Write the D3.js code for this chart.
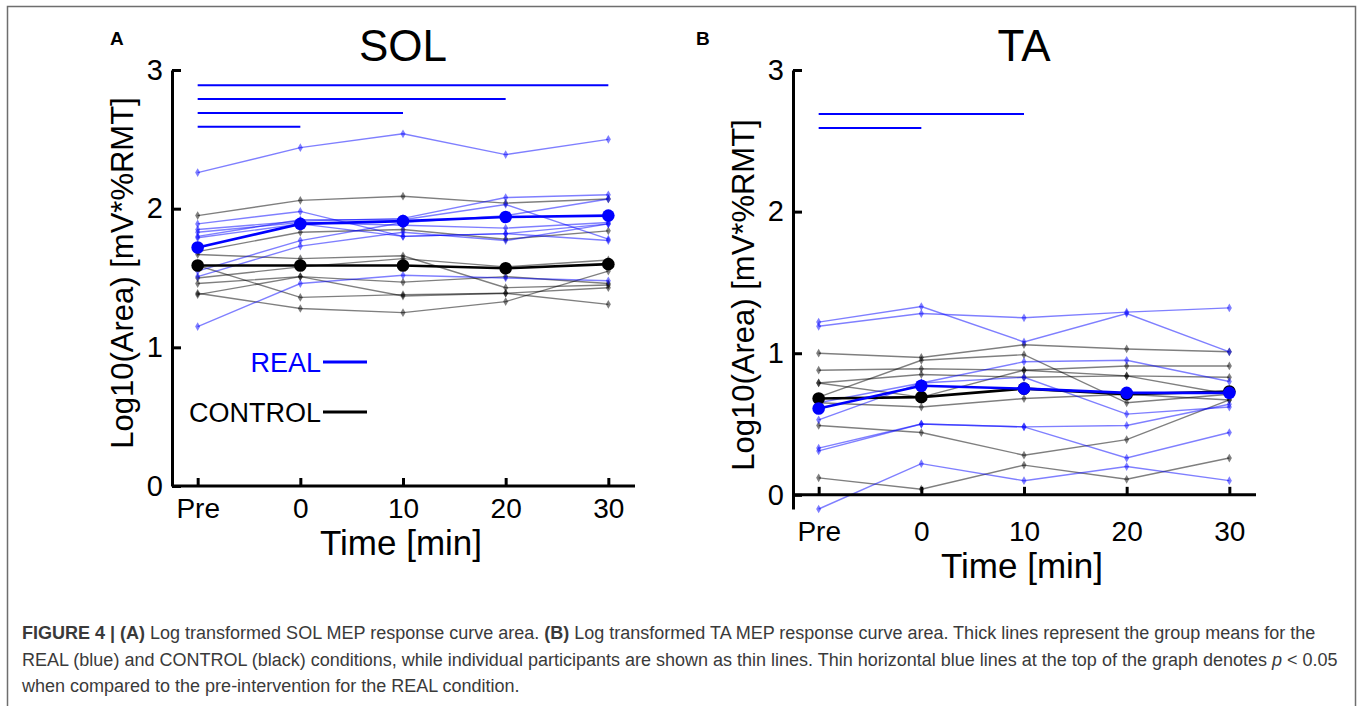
<!DOCTYPE html>
<html>
<head>
<meta charset="utf-8">
<script src="https://cdn.jsdelivr.net/npm/d3@7"></script>
<style>
  body { margin: 0; background: #fff; }
  svg text { font-family: "Liberation Sans", Arial, sans-serif; }
  .caption text { font-family: "Liberation Sans Narrow", "Liberation Sans", sans-serif; }
</style>
</head>
<body>
<svg id="fig" width="1360" height="706"></svg>
<script>
// time points (x categories)
var times = ["Pre", "0", "10", "20", "30"];

// SOL - individual participants, REAL condition
var solReal = [
  [2.26, 2.44, 2.54, 2.39, 2.50],
  [1.89, 1.98, 1.80, 1.82, 1.89],
  [1.85, 1.91, 1.93, 2.08, 2.10],
  [1.83, 1.90, 1.88, 1.86, 1.90],
  [1.80, 1.92, 1.92, 2.03, 1.78],
  [1.55, 1.77, 1.90, 1.95, 2.07],
  [1.51, 1.73, 1.83, 1.77, 1.89],
  [1.15, 1.46, 1.52, 1.50, 1.48],
  [1.79, 1.89, 1.80, 1.82, 1.77]
];
// SOL - individual participants, CONTROL condition
var solControl = [
  [1.95, 2.06, 2.09, 2.04, 2.07],
  [1.69, 1.83, 1.85, 1.78, 1.84],
  [1.67, 1.64, 1.66, 1.43, 1.45],
  [1.59, 1.36, 1.38, 1.39, 1.43],
  [1.50, 1.58, 1.64, 1.58, 1.63],
  [1.46, 1.51, 1.47, 1.51, 1.46],
  [1.39, 1.28, 1.25, 1.33, 1.55],
  [1.38, 1.51, 1.37, 1.39, 1.31]
];
var solRealMean = [1.72, 1.89, 1.91, 1.94, 1.95];
var solControlMean = [1.59, 1.59, 1.59, 1.57, 1.60];
// significance bars (p < 0.05 vs Pre), REAL
var solSigEnd = ["30", "20", "10", "0"];
var solSigLevel = [2.89, 2.79, 2.69, 2.59];

// TA - individual participants, REAL condition
var taReal = [
  [1.22, 1.33, 1.08, 1.28, 1.01],
  [1.19, 1.28, 1.25, 1.29, 1.32],
  [0.53, 0.79, 0.94, 0.95, 0.80],
  [0.33, 0.50, 0.48, 0.49, 0.64],
  [0.31, 0.50, 0.48, 0.26, 0.44],
  [-0.10, 0.22, 0.10, 0.20, 0.10],
  [0.65, 0.79, 0.83, 0.57, 0.62]
];
// TA - individual participants, CONTROL condition
var taControl = [
  [1.00, 0.97, 1.06, 1.03, 1.01],
  [0.69, 0.95, 0.99, 0.65, 0.71],
  [0.88, 0.89, 0.88, 0.91, 0.91],
  [0.79, 0.85, 0.83, 0.84, 0.83],
  [0.79, 0.69, 0.88, 0.84, 0.71],
  [0.65, 0.62, 0.68, 0.71, 0.67],
  [0.49, 0.44, 0.28, 0.39, 0.67],
  [0.12, 0.04, 0.21, 0.11, 0.26]
];
var taRealMean = [0.61, 0.77, 0.75, 0.72, 0.72];
var taControlMean = [0.68, 0.69, 0.75, 0.71, 0.73];
var taSigEnd = ["10", "0"];
var taSigLevel = [2.69, 2.59];

var yTicks = [0, 1, 2, 3];

var svg = d3.select("#fig");

// outer frame
svg.append("rect")
  .attr("x", 7.5)
  .attr("y", 6.5)
  .attr("width", 1348)
  .attr("height", 720)
  .attr("fill", "none")
  .attr("stroke", "#6e6e6e")
  .attr("stroke-width", 1.5);

var blueThin = "rgba(0,0,255,0.5)";
var greyThin = "rgba(0,0,0,0.5)";

function drawPanel(opt) {
  var g = svg.append("g");

  var x = d3.scalePoint()
    .domain(times)
    .range([opt.left, opt.right])
    .padding(0.25);

  var y = d3.scaleLinear()
    .domain([opt.yMin, 3])
    .range([opt.bottom, 70]);

  var line = d3.line()
    .x(function(d, i) { return x(times[i]); })
    .y(function(d) { return y(d); });

  var diamond = d3.symbol().type(d3.symbolDiamond).size(22);

  // thin participant lines
  function thin(series, colour) {
    series.forEach(function(s) {
      g.append("path")
        .attr("d", line(s))
        .attr("fill", "none")
        .attr("stroke", colour)
        .attr("stroke-width", 1.4);
      g.selectAll(null)
        .data(s)
        .enter()
        .append("path")
        .attr("d", diamond)
        .attr("transform", function(d, i) {
          return "translate(" + x(times[i]) + "," + y(d) + ")";
        })
        .attr("fill", colour);
    });
  }
  thin(opt.control, greyThin);
  thin(opt.real, blueThin);

  // group means
  function mean(s, colour) {
    g.append("path")
      .attr("d", line(s))
      .attr("fill", "none")
      .attr("stroke", colour)
      .attr("stroke-width", 2.6);
    g.selectAll(null)
      .data(s)
      .enter()
      .append("circle")
      .attr("cx", function(d, i) { return x(times[i]); })
      .attr("cy", function(d) { return y(d); })
      .attr("r", 6.3)
      .attr("fill", colour);
  }
  mean(opt.controlMean, "#000");
  mean(opt.realMean, "#0000ff");

  // significance bars
  opt.sigEnd.forEach(function(end, i) {
    g.append("line")
      .attr("x1", x("Pre"))
      .attr("x2", x(end))
      .attr("y1", y(opt.sigLevel[i]))
      .attr("y2", y(opt.sigLevel[i]))
      .attr("stroke", "#0000ff")
      .attr("stroke-width", 2);
  });

  // y axis
  var yAxis = g.append("g")
    .attr("transform", "translate(" + opt.left + ",0)")
    .call(d3.axisLeft(y).tickValues(yTicks).tickFormat(d3.format("d"))
      .tickSizeInner(-9).tickSizeOuter(0).tickPadding(9));
  yAxis.select(".domain").attr("stroke-width", 3);
  yAxis.selectAll(".tick line").attr("stroke-width", 3);
  yAxis.selectAll(".tick text")
    .attr("font-size", 29)
    .attr("font-family", "Liberation Sans, Arial, sans-serif")
    .attr("fill", "#000");

  // x axis, labels sit below the bottom of the plot
  var xAxis = g.append("g")
    .attr("transform", "translate(0," + y(0) + ")")
    .call(d3.axisBottom(x).tickSizeInner(-8).tickSizeOuter(0)
      .tickPadding(opt.bottom - y(0) + 12));
  xAxis.select(".domain")
    .attr("d", "M" + opt.left + ",0H" + (opt.right + 1))
    .attr("stroke-width", 3);
  xAxis.selectAll(".tick line").attr("stroke-width", 3);
  xAxis.selectAll(".tick text")
    .attr("font-size", 28)
    .attr("font-family", "Liberation Sans, Arial, sans-serif")
    .attr("fill", "#000");

  // axis labels
  g.append("text")
    .attr("x", (opt.left + opt.right) / 2 - 2)
    .attr("y", opt.bottom + 69)
    .attr("text-anchor", "middle")
    .attr("font-size", 35)
    .text("Time [min]");

  g.append("text")
    .attr("transform", "translate(" + (opt.left - 39) + "," + opt.labelY + ") rotate(-90)")
    .attr("text-anchor", "middle")
    .attr("font-size", 31)
    .text("Log10(Area) [mV*%RMT]");

  // title and panel letter
  g.append("text")
    .attr("x", x("10"))
    .attr("y", 61)
    .attr("text-anchor", "middle")
    .attr("font-size", 44)
    .text(opt.title);

  g.append("text")
    .attr("x", opt.letterX)
    .attr("y", 45)
    .attr("font-size", 19)
    .attr("font-weight", "bold")
    .text(opt.letter);

  return g;
}

var panelA = drawPanel({
  left: 172, right: 634, bottom: 486, yMin: 0, labelY: 273,
  title: "SOL", letter: "A", letterX: 110,
  real: solReal, control: solControl,
  realMean: solRealMean, controlMean: solControlMean,
  sigEnd: solSigEnd, sigLevel: solSigLevel
});

drawPanel({
  left: 793, right: 1255, bottom: 509, yMin: -0.1, labelY: 295,
  title: "TA", letter: "B", letterX: 696,
  real: taReal, control: taControl,
  realMean: taRealMean, controlMean: taControlMean,
  sigEnd: taSigEnd, sigLevel: taSigLevel
});

// legend in panel A
var legend = [
  { name: "REAL", colour: "#0000ff", y: 362 },
  { name: "CONTROL", colour: "#000", y: 412 }
];
legend.forEach(function(l) {
  panelA.append("text")
    .attr("x", 321)
    .attr("y", l.y + 10)
    .attr("text-anchor", "end")
    .attr("font-size", 27)
    .attr("fill", l.colour)
    .text(l.name);
  panelA.append("line")
    .attr("x1", 323)
    .attr("x2", 367)
    .attr("y1", l.y)
    .attr("y2", l.y)
    .attr("stroke", l.colour)
    .attr("stroke-width", 3);
});

// caption
var cap = svg.append("g")
  .attr("class", "caption")
  .attr("font-size", 18)
  .attr("fill", "#3a3a3a");

var t1 = cap.append("text").attr("x", 22).attr("y", 639);
t1.append("tspan").attr("font-weight", "bold").text("FIGURE 4 | (A)");
t1.append("tspan").text(" Log transformed SOL MEP response curve area. ");
t1.append("tspan").attr("font-weight", "bold").text("(B)");
t1.append("tspan").text(" Log transformed TA MEP response curve area. Thick lines represent the group means for the");

var t2 = cap.append("text").attr("x", 22).attr("y", 666);
t2.append("tspan").text("REAL (blue) and CONTROL (black) conditions, while individual participants are shown as thin lines. Thin horizontal blue lines at the top of the graph denotes ");
t2.append("tspan").attr("font-style", "italic").text("p");
t2.append("tspan").text(" < 0.05");

cap.append("text").attr("x", 22).attr("y", 692)
  .text("when compared to the pre-intervention for the REAL condition.");
</script>
</body>
</html>
